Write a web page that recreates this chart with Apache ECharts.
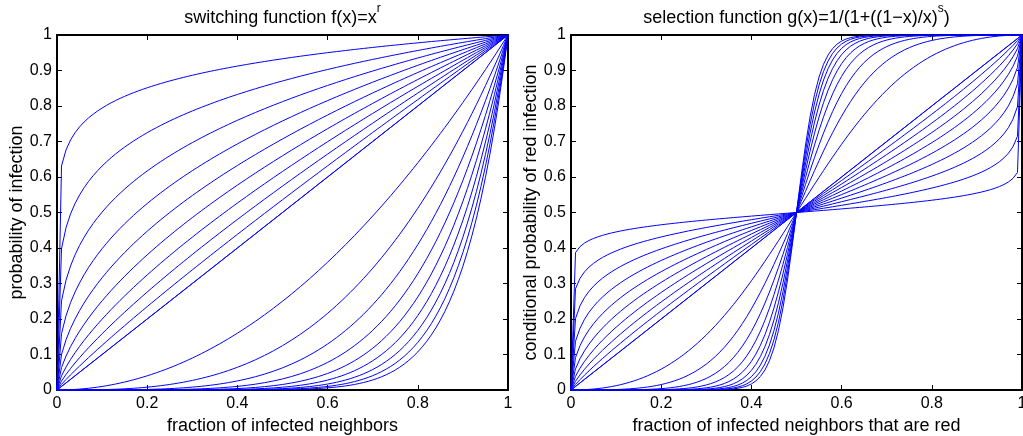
<!DOCTYPE html>
<html>
<head>
<meta charset="utf-8">
<script src="https://cdn.jsdelivr.net/npm/echarts@6/dist/echarts.min.js"></script>
<style>
html,body{margin:0;padding:0;background:#fff;}
#c{width:1023px;height:436px;}
</style>
</head>
<body>
<div id="c"></div>
<script>
// exponents (r for f(x)=x^r, s for g(x)=1/(1+((1-x)/x)^s))
const rExponents = [0.1, 0.2, 0.3, 0.4, 0.5, 0.6, 0.7, 0.8, 0.9, 1, 1, 2, 3, 4, 5, 6, 7, 8, 9, 10];
const sExponents = [0.1, 0.2, 0.3, 0.4, 0.5, 0.6, 0.7, 0.8, 0.9, 1, 1, 2, 3, 4, 5, 6, 7, 8, 9, 10];
const xTicks = [0, 0.2, 0.4, 0.6, 0.8, 1];
const yTicks = [0, 0.1, 0.2, 0.3, 0.4, 0.5, 0.6, 0.7, 0.8, 0.9, 1];
const leftTitle = 'switching function f(x)=x';
const rightTitle = 'selection function g(x)=1/(1+((1\u2212x)/x)';
const leftXLabel = 'fraction of infected neighbors';
const leftYLabel = 'probability of infection';
const rightXLabel = 'fraction of infected neighbors that are red';
const rightYLabel = 'conditional probability of red infection';

// sampling grid of the plotted functions (step 0.01)
const xs = [];
for (let i = 0; i <= 100; i++) xs.push(i / 100);

function f(x, r) { return Math.pow(x, r); }
function g(x, s) {
  if (x === 0) return 0;
  if (x === 1) return 1;
  return 1 / (1 + Math.pow((1 - x) / x, s));
}

const FONT = 'Liberation Sans, Arial, Helvetica, sans-serif';
const BLUE = '#0000ff';
const AXLINE = {show: true, onZero: false, lineStyle: {color: '#000', width: 2}};
const TICK = {show: true, inside: true, length: 5, lineStyle: {color: '#000', width: 1}};

function bottomX(gi, name) {
  return {
    type: 'value', gridIndex: gi, position: 'bottom', min: 0, max: 1, interval: 0.2,
    axisLine: AXLINE, axisTick: TICK,
    axisLabel: {show: true, color: '#000', fontSize: 16, fontFamily: FONT, margin: 6},
    splitLine: {show: false},
    name: name, nameLocation: 'middle', nameGap: 20,
    nameTextStyle: {color: '#000', fontSize: 18, fontFamily: FONT}
  };
}
function topX(gi, title, sup) {
  return {
    type: 'value', gridIndex: gi, position: 'top', min: 0, max: 1, interval: 0.2,
    axisLine: AXLINE, axisTick: TICK,
    axisLabel: {show: false},
    splitLine: {show: false},
    name: '{m|' + title + '}{s|' + sup + '}' + (gi === 1 ? '{m|)}' : ''),
    nameLocation: 'middle', nameGap: 8,
    nameTextStyle: {
      color: '#000', fontSize: 18, fontFamily: FONT,
      rich: {
        m: {fontSize: 18, fontFamily: FONT, color: '#000', lineHeight: 24, verticalAlign: 'bottom'},
        s: {fontSize: 12, fontFamily: FONT, color: '#000', verticalAlign: 'top', lineHeight: 12}
      }
    }
  };
}
function leftY(gi, name) {
  return {
    type: 'value', gridIndex: gi, position: 'left', min: 0, max: 1, interval: 0.1,
    axisLine: AXLINE, axisTick: TICK,
    axisLabel: {show: true, color: '#000', fontSize: 16, fontFamily: FONT, margin: 5},
    splitLine: {show: false},
    name: name, nameLocation: 'middle', nameGap: 31,
    nameTextStyle: {color: '#000', fontSize: 18, fontFamily: FONT}
  };
}
function rightY(gi) {
  return {
    type: 'value', gridIndex: gi, position: 'right', min: 0, max: 1, interval: 0.1,
    axisLine: AXLINE, axisTick: TICK,
    axisLabel: {show: false},
    splitLine: {show: false}
  };
}

const series = [];
rExponents.forEach(function (r) {
  series.push({
    type: 'line', xAxisIndex: 0, yAxisIndex: 0, showSymbol: false, symbol: 'none',
    lineStyle: {color: BLUE, width: 1}, silent: true, animation: false,
    data: xs.map(function (x) { return [x, f(x, r)]; })
  });
});
sExponents.forEach(function (s) {
  series.push({
    type: 'line', xAxisIndex: 1, yAxisIndex: 1, showSymbol: false, symbol: 'none',
    lineStyle: {color: BLUE, width: 1}, silent: true, animation: false,
    data: xs.map(function (x) { return [x, g(x, s)]; })
  });
});

const chart = echarts.init(document.getElementById('c'), null, {renderer: 'canvas'});
chart.setOption({
  backgroundColor: '#fff',
  animation: false,
  textStyle: {fontFamily: FONT},
  grid: [
    {left: 57, top: 35, width: 451, height: 355, outerBoundsMode: 'none', containLabel: false},
    {left: 571, top: 35, width: 451, height: 355, outerBoundsMode: 'none', containLabel: false}
  ],
  xAxis: [bottomX(0, leftXLabel), bottomX(1, rightXLabel), topX(0, leftTitle, 'r'), topX(1, rightTitle, 's')],
  yAxis: [leftY(0, leftYLabel), leftY(1, rightYLabel), rightY(0), rightY(1)],
  series: series
});
</script>
</body>
</html>
